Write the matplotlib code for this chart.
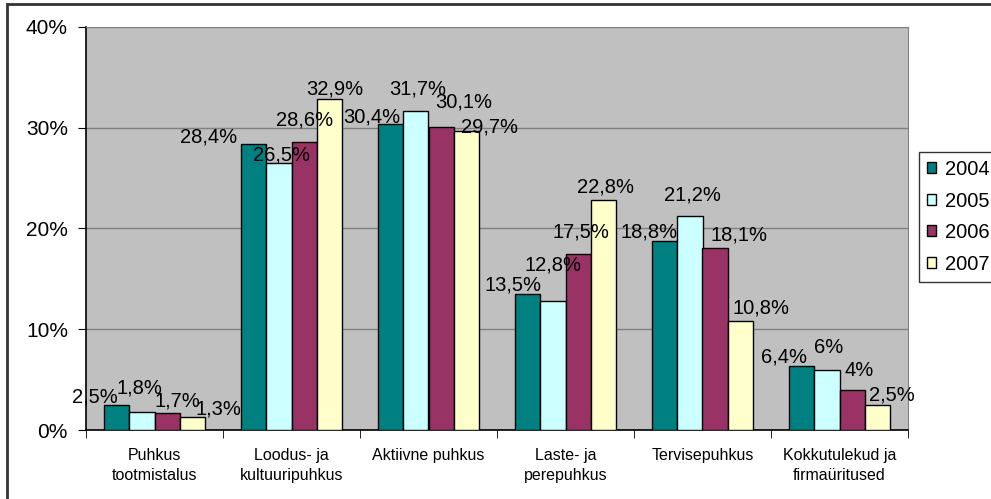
import numpy as np
import matplotlib.pyplot as plt
from matplotlib.patches import Rectangle

plt.rcParams["font.family"] = ["Liberation Sans", "DejaVu Sans"]

categories = ["Puhkus\ntootmistalus", "Loodus- ja\nkultuuripuhkus", "Aktiivne puhkus",
              "Laste- ja\nperepuhkus", "Tervisepuhkus", "Kokkutulekud ja\nfirmaüritused"]
years = ["2004", "2005", "2006", "2007"]
v2004 = [2.5, 28.4, 30.4, 13.5, 18.8, 6.4]
v2005 = [1.8, 26.5, 31.7, 12.8, 21.2, 6.0]
v2006 = [1.7, 28.6, 30.1, 17.5, 18.1, 4.0]
v2007 = [1.3, 32.9, 29.7, 22.8, 10.8, 2.5]
series = [v2004, v2005, v2006, v2007]
colors = ["#008080", "#CCFFFF", "#993366", "#FFFFCC"]

# label nudges in pixels (dx, dy) from top centre of each bar, per year
label_offsets = [
    [(-22, 8), (-45, 7), (-19, 7), (-15, 9), (-16, 9), (-18, 9)],
    [(-3, 24), (3, 8), (2, 22), (0, 36), (2, 21), (2, 22)],
    [(10, 12), (1, 22), (23, 25), (3, 22), (24, 13), (7, 19)],
    [(26, 8), (6, 10), (23, 4), (2, 13), (21, 13), (15, 10)],
]

fig = plt.figure(figsize=(9.91, 4.99), dpi=100)
ax = fig.add_axes([86 / 991, 1 - 430 / 499, 822 / 991, 403 / 499])
ax.set_facecolor("#C0C0C0")

x = np.arange(len(categories))
w = 0.1825
for i, (vals, col) in enumerate(zip(series, colors)):
    pos = x + (i - 1.5) * w
    ax.bar(pos, vals, width=w, color=col, edgecolor="black", linewidth=1,
           label=years[i], zorder=3)
    for j, v in enumerate(vals):
        txt = f"{v:g}".replace(".", ",") + "%"
        dx, dy = label_offsets[i][j]
        ax.annotate(txt, (pos[j], v), xytext=(dx, dy), textcoords="offset pixels",
                    ha="center", va="center", fontsize=14.5, zorder=4,
                    annotation_clip=False)

ax.set_xlim(-0.5, len(categories) - 0.5)
ax.set_ylim(0, 40)
ax.set_yticks([0, 10, 20, 30, 40])
ax.set_yticklabels([f"{t}%" for t in [0, 10, 20, 30, 40]], fontsize=15)
ax.yaxis.grid(True, color="#808080", linewidth=1, zorder=0)
ax.set_axisbelow(True)

ax.set_xticks(x)
ax.set_xticklabels(categories, fontsize=11.5, linespacing=1.4)
ax.tick_params(axis="x", length=0, pad=13)
ax.set_xticks(np.arange(-0.5, len(categories)), minor=True)
ax.tick_params(axis="x", which="minor", length=6, color="black")
ax.tick_params(axis="y", length=6, color="black", pad=7)

for s in ["top", "right"]:
    ax.spines[s].set_color("#808080")
for s in ["left", "bottom"]:
    ax.spines[s].set_color("black")
    ax.spines[s].set_linewidth(1.2)

leg = ax.legend(loc="upper left", bbox_to_anchor=(919 / 991, 1 - 152 / 499),
                bbox_transform=fig.transFigure, fontsize=14.5, frameon=True,
                fancybox=False, edgecolor="black", handlelength=0.45,
                handleheight=0.45, handletextpad=0.45, labelspacing=0.62,
                borderpad=0.4, borderaxespad=0)
leg.get_frame().set_linewidth(1)

fig.patches.append(Rectangle((7 / 991, -0.1), 1.2, 1.1 - 4 / 499, transform=fig.transFigure,
                             fill=False, edgecolor="#333333", linewidth=2, clip_on=False))

fig.savefig("out.png", dpi=100)
